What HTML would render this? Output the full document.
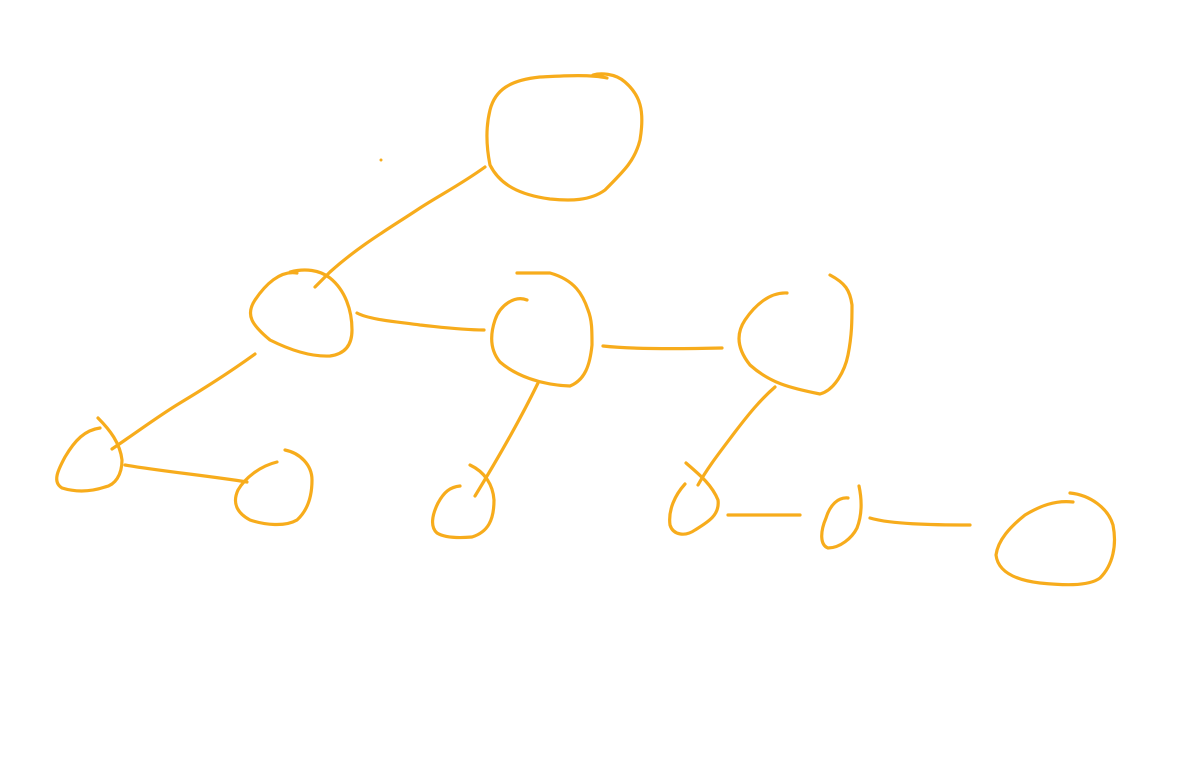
<!DOCTYPE html>
<html><head><meta charset="utf-8"><style>
html,body{margin:0;padding:0;background:#fff;}
svg{display:block;}
path,line{fill:none;stroke:#F7AC1C;stroke-width:3.2;stroke-linecap:round;stroke-linejoin:round;}
</style></head><body>
<svg width="1181" height="774" viewBox="0 0 1181 774">
<circle cx="381" cy="160" r="1.5" fill="#F7AC1C"/>
<path d="M607,78 C590,74 560,76 540,77 C510,80 495,90 490,110 C485,130 487,150 490,165 C500,185 520,195 550,199 C570,201 590,201 605,190 C625,170 635,160 640,140 C645,110 640,95 625,82 C615,73 600,73 593,75"/>
<path d="M485,167 C460,185 440,195 420,208 C390,228 360,245 330,272 L315,287"/>
<path d="M297,273 C280,270 265,285 255,300 C245,315 252,325 270,340 C290,350 310,357 330,356 C345,354 352,345 352,330 C352,310 345,290 330,278 C320,270 305,268 290,272"/>
<path d="M357,313 C370,320 400,322 420,325 C440,327 460,330 484,330"/>
<path d="M527,300 C515,295 500,305 495,320 C490,335 490,350 500,362 C515,375 540,385 570,386 C585,380 590,365 592,345 C592,330 592,320 588,310 C583,295 575,280 550,273 L517,273"/>
<path d="M603,346 C630,349 680,349 722,348"/>
<path d="M787,293 C770,292 755,305 745,320 C735,335 738,350 750,365 C770,383 790,388 820,394 C835,390 845,370 848,355 C852,335 852,320 852,305 C850,290 845,283 830,275"/>
<path d="M255,354 C230,372 210,385 180,403 C160,415 140,430 112,449"/>
<path d="M98,418 C110,430 120,443 122,460 C122,475 115,485 105,487 C90,492 75,492 62,488 C52,482 58,470 65,457 C75,440 85,430 100,428"/>
<path d="M125,465 C160,471 210,476 247,482"/>
<path d="M285,450 C300,453 312,465 312,480 C312,495 308,510 297,520 C285,527 265,525 250,520 C237,513 232,503 238,490 C245,478 260,466 277,462"/>
<path d="M538,383 C520,420 500,455 475,496"/>
<path d="M470,465 C485,472 493,485 494,500 C494,520 488,532 472,537 C460,538 445,538 437,533 C430,527 432,515 438,503 C444,492 450,487 460,486"/>
<path d="M775,387 C760,400 748,415 735,432 C720,452 708,467 698,485"/>
<path d="M686,463 C700,475 712,485 718,500 C720,515 708,522 695,530 C685,537 673,535 670,525 C668,510 675,495 685,484"/>
<path d="M728,515 L800,515"/>
<path d="M848,498 C838,497 830,505 826,518 C820,532 820,545 828,548 C840,548 852,538 857,528 C862,515 862,500 859,486"/>
<path d="M870,518 C890,524 930,525 970,525"/>
<path d="M1070,493 C1090,495 1108,508 1113,525 C1117,545 1113,565 1100,578 C1088,587 1060,585 1040,583 C1015,580 998,572 996,555 C998,540 1010,527 1025,515 C1040,506 1055,500 1073,502"/>
</svg>
</body></html>
